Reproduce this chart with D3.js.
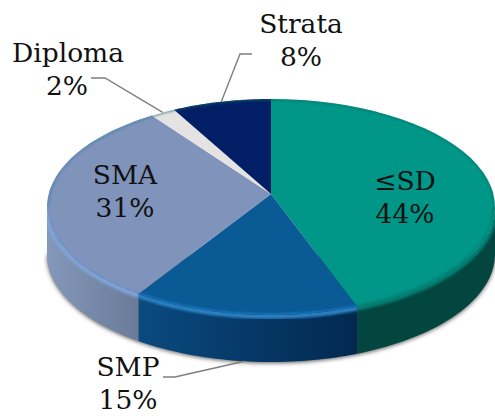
<!DOCTYPE html>
<html><head><meta charset="utf-8">
<script src="https://cdnjs.cloudflare.com/ajax/libs/d3/7.8.5/d3.min.js"></script>
<style>html,body{margin:0;padding:0;background:#fff}svg{display:block}text{font-family:"DejaVu Serif",serif;font-size:26.5px;fill:#111;text-anchor:middle}</style>
</head><body><svg id="c" width="495" height="416"></svg>
<script>
const categories=["≤SD","SMP","SMA","Diploma","Strata"];
const values=[44.4,14.6,31,2,8];
const topColors=["#009688","#0a5a96","#7f93bb","#e4e2e2","#021f66"];
const wallLeft=["#03453f","#0a4a80","#8498ba","#888","#000"];
const wallRight=["#03453f","#02284f","#6a7b98","#888","#000"];
const rimColors=["#047f72","#2a7fc0","#7ea3d6","#ccc","#000"];
const W=495,H=416,cx=271,cy=207,rx=224,ry=108,depth=47,apexY=194;
const svg=d3.select("#c"),defs=svg.append("defs");
const sx=d3.scaleLinear().domain([-1,1]).range([cx-rx,cx+rx]);
const sy=d3.scaleLinear().domain([-1,1]).range([cy+ry,cy-ry]);
const a=0.06;
function warp(t){ // perspective of the tilted disc acting on the rim angle
  const re=Math.sin(t),im=Math.cos(t);
  const nr=re,ni=im+a,dr=1+a*im,di=-a*re;
  const d=dr*dr+di*di,wr=(nr*dr+ni*di)/d,wi=(ni*dr-nr*di)/d;
  let r=Math.atan2(wr,wi);
  if(r<-1e-6)r+=2*Math.PI;
  return r;
}
const rim=(t,dy=0)=>[sx(Math.sin(t)),sy(Math.cos(t))+dy];
const line=d3.line();
const arcs=d3.pie().sort(null)(values).map((d,i)=>{
  const s=warp(d.startAngle),e=i===values.length-1?2*Math.PI:warp(d.endAngle);
  return {i,s,e,mid:warp((d.startAngle+d.endAngle)/2)};
});
const samples=(s,e)=>d3.range(0,41).map(k=>s+(e-s)*k/40);
const f=defs.append("filter").attr("id","blur").attr("x","-10%").attr("y","-10%").attr("width","120%").attr("height","120%");
f.append("feGaussianBlur").attr("stdDeviation",2.2);
const f2=defs.append("filter").attr("id","soft");
f2.append("feGaussianBlur").attr("stdDeviation",1.3);
const fr=[Math.PI/2,3*Math.PI/2];
svg.append("path").attr("d",line(samples(fr[0],fr[1]).map(t=>rim(t,depth+1))))
  .attr("fill","#555").attr("filter","url(#blur)");
defs.append("clipPath").attr("id","topClip").append("path")
  .attr("d",line(samples(0,2*Math.PI).map(t=>rim(t)))+"Z");
arcs.forEach(d=>{
  const s=Math.max(d.s,fr[0]),e=Math.min(d.e,fr[1]);
  if(e<=s)return;
  const ts=samples(s,e);
  const xs=ts.map(t=>rim(t)[0]);
  const g=defs.append("linearGradient").attr("id","w"+d.i).attr("gradientUnits","userSpaceOnUse")
    .attr("x1",d3.min(xs)).attr("x2",d3.max(xs)).attr("y1",0).attr("y2",0);
  g.append("stop").attr("offset",0).attr("stop-color",wallLeft[d.i]);
  g.append("stop").attr("offset",1).attr("stop-color",wallRight[d.i]);
  const pts=ts.map(t=>rim(t)).concat(ts.slice().reverse().map(t=>rim(t,depth)));
  svg.append("path").attr("d",line(pts)+"Z").attr("fill",`url(#w${d.i})`);
});
const bevel=svg.append("g").attr("clip-path","url(#wallClip)");
defs.append("clipPath").attr("id","wallClip").append("path")
  .attr("d",line(samples(fr[0],fr[1]).map(t=>rim(t)).concat(samples(fr[0],fr[1]).reverse().map(t=>rim(t,depth))))+"Z");
arcs.forEach(d=>{
  const s=Math.max(d.s,fr[0]),e=Math.min(d.e,fr[1]);
  if(e<=s)return;
  bevel.append("path").attr("d",line(samples(s,e).map(t=>rim(t,1))))
    .attr("fill","none").attr("stroke",rimColors[d.i]).attr("stroke-width",6).attr("filter","url(#soft)");
});
arcs.forEach(d=>{
  const pts=[[cx,apexY]].concat(samples(d.s,d.e).map(t=>rim(t)));
  svg.append("path").attr("d",line(pts)+"Z").attr("fill",topColors[d.i]);
});
const edge=svg.append("g").attr("clip-path","url(#topClip)");
edge.append("path").attr("d",line(samples(-1.55,1.7).map(t=>rim(t))))
  .attr("fill","none").attr("stroke","#0a6f66").attr("stroke-width",3).attr("opacity",.55)
  .attr("filter","url(#soft)");
[[2,"#6f93cc"],[0,"#0a7a70"],[1,"#1d78bf"]].forEach(([i,c])=>{
  const d=arcs[i];
  edge.append("path").attr("d",line(samples(i===0?Math.PI/2:d.s,d.e).map(t=>rim(t))))
    .attr("fill","none").attr("stroke",c).attr("stroke-width",3).attr("filter","url(#soft)");
});
const leaders={
  4:{rimDy:0,frac:0.5,via:[[240,54],[252,54]]},
  3:{rimDy:0,frac:0.5,via:[[105,78],[91,78]]},
  1:{rimDy:depth,frac:0.5,via:[[175,377],[163,377]]}
};
Object.keys(leaders).forEach(k=>{
  const d=arcs[k],l=leaders[k];
  const p=rim(d.s+(d.e-d.s)*l.frac,l.rimDy);
  svg.append("path").attr("d",line([p].concat(l.via))).attr("fill","none")
    .attr("stroke","#7f7f7f").attr("stroke-width",1.4);
});
const labelPos=[[405,190],[128,376],[125,184],[68,62],[301,33]];
labelPos.forEach((p,i)=>{
  svg.append("text").attr("x",p[0]).attr("y",p[1]).text(categories[i]);
  svg.append("text").attr("x",p[0]-(i===3?1:0)).attr("y",p[1]+33).text(Math.round(values[i])+"%");
});
</script></body></html>
